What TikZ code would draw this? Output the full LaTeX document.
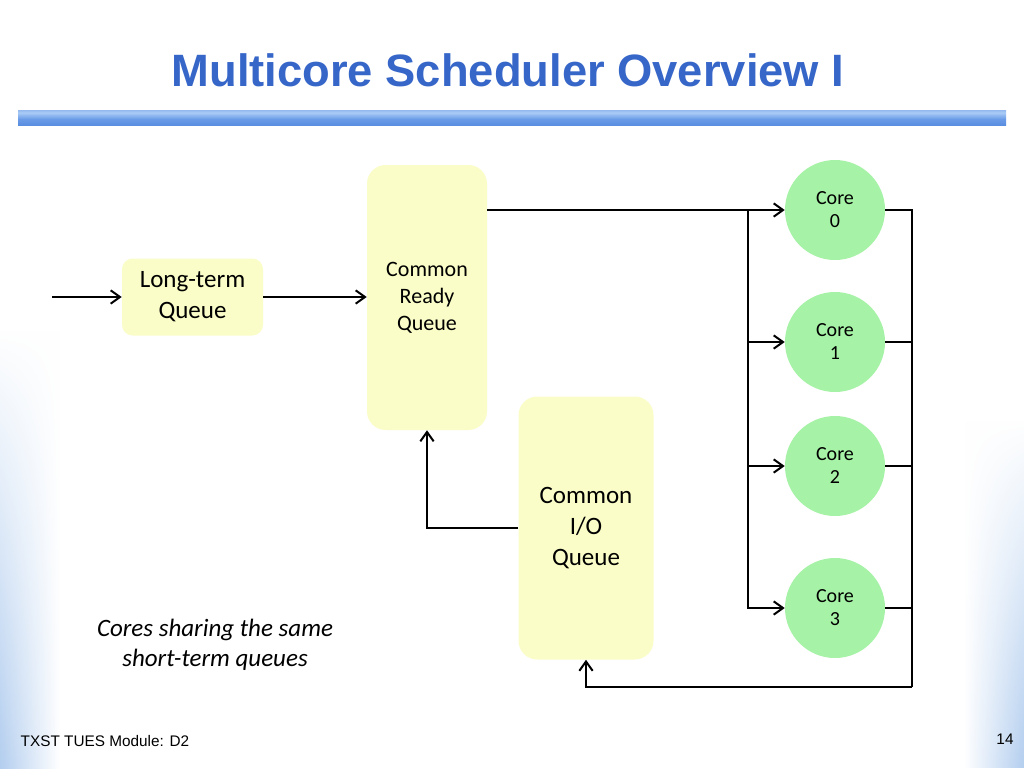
\documentclass[tikz,border=0pt]{standalone}
\usepackage{fontspec}
\setmainfont{Carlito}
\newfontfamily\arialfont{Liberation Sans}
\usepackage{tikz}
\usetikzlibrary{arrows.meta}
\usetikzlibrary{fadings}
\definecolor{titleblue}{HTML}{3766C9}
\definecolor{queueyellow}{HTML}{FAFDC8}
\definecolor{coregreen}{HTML}{A6F2A6}
\definecolor{edgeblue}{HTML}{B3CEEF}
\definecolor{barA}{RGB}{62,104,192}
\definecolor{barB}{RGB}{90,142,224}
\definecolor{barC}{RGB}{106,155,232}
\definecolor{barD}{RGB}{169,204,246}
\definecolor{barE}{RGB}{127,166,230}
\definecolor{barF}{RGB}{61,90,165}
\tikzfading[name=fadeup, top color=transparent!100, bottom color=transparent!0]
\pgfdeclareverticalshading{titlebar}{100bp}{
  color(0bp)=(barA); color(25bp)=(barB); color(45bp)=(barC);
  color(66bp)=(barD); color(84bp)=(barE); color(100bp)=(barF)}

\begin{document}
\begin{tikzpicture}[x=0.75pt,y=-0.75pt,
    arr/.style={-{Straight Barb[length=7pt,width=10pt]}},
    wire/.style={line width=1.5pt},
    queue/.style={fill=queueyellow,rounded corners=14pt,inner sep=0pt,align=center},
    core/.style={circle,fill=coregreen,minimum size=75pt,inner sep=0pt,align=center,
      font=\fontsize{15}{17.25}\selectfont}
  ]
\useasboundingbox (0,0) rectangle (1024,768);

%%% BACKGROUND %%%
\fill[white] (0,0) rectangle (1024,768);
\shade[left color=edgeblue,right color=white,path fading=fadeup] (0,330) rectangle (60,768);
\shade[left color=white,right color=edgeblue,path fading=fadeup] (964,420) rectangle (1024,768);

%%% TITLE %%%
\node[font=\arialfont\bfseries\fontsize{34}{40}\selectfont,text=titleblue] (title) at (508,70)
  {Multicore Scheduler Overview I};
\shade[shading=titlebar] (18,110) rectangle (1006,125);

%%% QUEUES %%%
\node[queue,rounded corners=8pt,minimum width=105.75pt,minimum height=57.75pt,
  font=\fontsize{18.75}{23.25}\selectfont] (lterm) at (192.5,297) {Long-term\\Queue};
\node[queue,minimum width=90pt,minimum height=198.75pt,
  font=\fontsize{16.5}{20.25}\selectfont] (ready) at (427,297.5) {Common\\Ready\\Queue};
\node[queue,minimum width=101.25pt,minimum height=197.25pt,
  font=\fontsize{18.75}{23.25}\selectfont] (io) at (586,528) {Common\\I/O\\Queue};

%%% CORES %%%
\node[core] (core0) at (835,210) {Core\\0};
\node[core] (core1) at (835,342) {Core\\1};
\node[core] (core2) at (835,466) {Core\\2};
\node[core] (core3) at (835,608) {Core\\3};

%%% CONNECTORS %%%
\coordinate (in) at (52,297); % new jobs
\coordinate (busL) at (748,210); % dispatch bus
\coordinate (busR) at (912,687); % return bus
\draw[wire,arr] (in) -- (lterm.west);
\draw[wire,arr] (lterm.east) -- (lterm.east -| ready.west);
\draw[wire,arr] (ready.east |- core0) -- (core0);
% dispatch to each core
\draw[wire,arr] (busL) |- (core1);
\draw[wire,arr] (busL) |- (core2);
\draw[wire,arr] (busL) |- (core3);
% back from the cores
\draw[wire] (core0) -| (busR);
\draw[wire] (core1) -- (core1 -| busR);
\draw[wire] (core2) -- (core2 -| busR);
\draw[wire] (core3) -- (core3 -| busR);
\draw[wire,arr] (busR) -| (io);
\draw[wire,arr] (io) -| (ready);

%%% TEXTS %%%
\node[font=\itshape\fontsize{18.75}{22.5}\selectfont,align=center] (note) at (215,645)
  {Cores sharing the same\\short-term queues};
\node[font=\arialfont\fontsize{11.5}{13}\selectfont,anchor=west] (footer) at (16,741)
  {TXST TUES Module: D2};
\node[font=\arialfont\fontsize{11.5}{13}\selectfont] (page) at (1005,739) {14};
\end{tikzpicture}
\end{document}
